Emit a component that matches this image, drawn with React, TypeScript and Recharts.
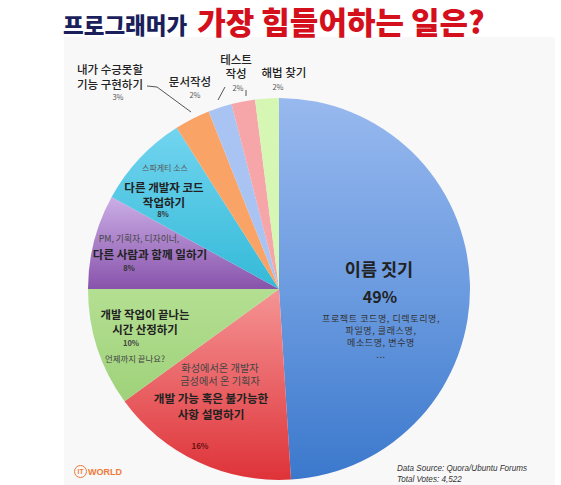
import { PieChart, Pie, Cell } from 'recharts'

const categories = [
  '이름 짓기',
  '개발 가능 혹은 불가능한 사항 설명하기',
  '개발 작업이 끝나는 시간 산정하기',
  '다른 사람과 함께 일하기',
  '다른 개발자 코드 작업하기',
  '내가 수긍못할 기능 구현하기',
  '문서작성',
  '테스트 작성',
  '해법 찾기',
]
const shares = [49, 16, 10, 8, 8, 3, 2, 2, 2]
const shareLabels = shares.map((v) => `${v}%`)

const COLORS = [
  'url(#gBlue)',
  'url(#gRed)',
  'url(#gGreen)',
  'url(#gPurple)',
  'url(#gTeal)',
  '#f9a466',
  '#a9c4f2',
  '#f6a6a9',
  '#d6f6b4',
]

const data = categories.map((name, i) => ({ name, value: shares[i] }))

const KR = "'Noto Sans CJK KR', 'Noto Sans', sans-serif"

interface TxtProps {
  x: number
  y: number
  size: number
  weight?: number
  color?: string
  lh?: number
  ls?: number
  children: React.ReactNode
}

// centred text block, y is the middle of the block
function Txt({ x, y, size, weight = 400, color = '#222', lh, ls = 0, children }: TxtProps) {
  return (
    <div
      style={{
        position: 'absolute',
        left: x,
        top: y,
        transform: 'translate(-50%, -50%)',
        fontFamily: KR,
        fontSize: size,
        fontWeight: weight,
        color,
        lineHeight: lh ? `${lh}px` : 1,
        letterSpacing: ls,
        textAlign: 'center',
        whiteSpace: 'nowrap',
      }}
    >
      {children}
    </div>
  )
}

export default function App() {
  return (
    <div style={{ position: 'absolute', left: 0, top: 0, width: 561, height: 485, background: '#fff', overflow: 'hidden' }}>
      {/* faint card behind the pie */}
      <div style={{ position: 'absolute', left: 64, top: 37, width: 491, height: 448, background: '#f8f8f8' }} />

      <PieChart width={561} height={485} style={{ position: 'absolute', left: 0, top: 0 }}>
        <defs>
          <linearGradient id="gBlue" x1="0" y1="0" x2="0" y2="1">
            <stop offset="0%" stopColor="#98b9ef" />
            <stop offset="55%" stopColor="#6798de" />
            <stop offset="100%" stopColor="#3b78cc" />
          </linearGradient>
          <linearGradient id="gRed" x1="0" y1="0" x2="0" y2="1">
            <stop offset="0%" stopColor="#f59494" />
            <stop offset="100%" stopColor="#de3339" />
          </linearGradient>
          <linearGradient id="gGreen" x1="0" y1="0" x2="0" y2="1">
            <stop offset="0%" stopColor="#b4df92" />
            <stop offset="100%" stopColor="#9fd27a" />
          </linearGradient>
          <linearGradient id="gPurple" x1="0" y1="0" x2="0" y2="1">
            <stop offset="0%" stopColor="#cbaee6" />
            <stop offset="100%" stopColor="#8853ab" />
          </linearGradient>
          <linearGradient id="gTeal" x1="0" y1="0" x2="0" y2="1">
            <stop offset="0%" stopColor="#72d4ef" />
            <stop offset="100%" stopColor="#33bad8" />
          </linearGradient>
        </defs>
        <Pie
          data={data}
          dataKey="value"
          nameKey="name"
          cx={274}
          cy={284}
          innerRadius={0}
          outerRadius={191}
          startAngle={90}
          endAngle={-270}
          stroke="none"
          isAnimationActive={false}
        >
          {data.map((d, i) => (
            <Cell key={d.name} fill={COLORS[i]} />
          ))}
        </Pie>
      </PieChart>

      {/* leader lines for the small slices */}
      <svg width={561} height={485} style={{ position: 'absolute', left: 0, top: 0 }}>
        <polyline points="147,86 157,87 191,112" fill="none" stroke="#555" strokeWidth={1} />
        <line x1={225} y1={87} x2={218} y2={100} stroke="#555" strokeWidth={1} />
        <line x1={246} y1={90} x2={246} y2={96} stroke="#555" strokeWidth={1} />
      </svg>

      {/* title */}
      <div
        style={{
          position: 'absolute',
          left: 63,
          top: 6,
          fontFamily: KR,
          fontWeight: 900,
          whiteSpace: 'nowrap',
          lineHeight: '30px',
        }}
      >
        <span style={{ fontSize: 22.5, color: '#1b1f5c' }}>프로그래머가</span>
        <span style={{ fontSize: 31, color: '#d3101c', marginLeft: 10 }}>가장 힘들어하는 일은?</span>
      </div>

      {/* outside labels */}
      <Txt x={110} y={76.5} size={11.5} weight={500} lh={15}>내가 수긍못할<br />기능 구현하기</Txt>
      <Txt x={118} y={97} size={7.5} color="#555">{shareLabels[5]}</Txt>
      <Txt x={190} y={82} size={11.5} weight={500}>{categories[6]}</Txt>
      <Txt x={195} y={95} size={7.5} color="#555">{shareLabels[6]}</Txt>
      <Txt x={236} y={66} size={11.5} weight={500} lh={14}>테스트<br />작성</Txt>
      <Txt x={238} y={87.5} size={7.5} color="#555">{shareLabels[7]}</Txt>
      <Txt x={284} y={73} size={11.5} weight={500}>{categories[8]}</Txt>
      <Txt x={278} y={87} size={7.5} color="#555">{shareLabels[8]}</Txt>

      {/* teal */}
      <Txt x={165} y={168} size={8} color="#555">스파게티 소스</Txt>
      <Txt x={164} y={194.5} size={11.5} weight={700} lh={15}>다른 개발자 코드<br />작업하기</Txt>
      <Txt x={163} y={214} size={7.5} weight={700} color="#333">{shareLabels[4]}</Txt>

      {/* purple */}
      <Txt x={139} y={239} size={8.8} color="#444">PM, 기획자, 디자이너,</Txt>
      <Txt x={150} y={255} size={11.6} weight={700}>다른 사람과 함께 일하기</Txt>
      <Txt x={129} y={268} size={7.5} weight={700} color="#333">{shareLabels[3]}</Txt>

      {/* green */}
      <Txt x={145} y={321.5} size={11.4} weight={700} lh={15}>개발 작업이 끝나는<br />시간 산정하기</Txt>
      <Txt x={131} y={343} size={7.5} weight={700} color="#444">{shareLabels[2]}</Txt>
      <Txt x={135} y={358} size={8.4} color="#444">언제까지 끝나요?</Txt>

      {/* red */}
      <Txt x={220} y={373.5} size={10.2} color="#444" lh={13}>화성에서온 개발자<br />금성에서 온 기획자</Txt>
      <Txt x={211} y={406} size={11.6} weight={700} lh={16}>개발 가능 혹은 불가능한<br />사항 설명하기</Txt>
      <Txt x={200} y={446} size={8} weight={700} color="#6a1010">{shareLabels[1]}</Txt>

      {/* blue */}
      <Txt x={379} y={269} size={17.5} weight={700}>{categories[0]}</Txt>
      <Txt x={380} y={296} size={16} weight={700}>{shareLabels[0]}</Txt>
      <Txt x={381} y={337} size={9} color="#333" lh={12} ls={0.6}>
        프로젝트 코드명, 디렉토리명,<br />파일명, 클래스명,<br />메소드명, 변수명<br />...
      </Txt>

      {/* source note */}
      <div
        style={{
          position: 'absolute',
          left: 397,
          top: 463,
          fontFamily: "'Liberation Sans', sans-serif",
          fontStyle: 'italic',
          fontSize: 9,
          lineHeight: '11px',
          color: '#333',
          whiteSpace: 'nowrap',
          transform: 'scaleX(0.9)',
          transformOrigin: 'left top',
        }}
      >
        Data Source: Quora/Ubuntu Forums<br />Total Votes: 4,522
      </div>

      {/* logo */}
      <div
        style={{
          position: 'absolute',
          left: 74,
          top: 465,
          display: 'flex',
          alignItems: 'center',
          fontFamily: "'Liberation Sans', sans-serif",
          fontWeight: 700,
          color: '#f07a3a',
          whiteSpace: 'nowrap',
        }}
      >
        <span
          style={{
            display: 'inline-flex',
            alignItems: 'center',
            justifyContent: 'center',
            width: 11,
            height: 11,
            border: '1.3px solid #f07a3a',
            borderRadius: '50%',
            fontSize: 6.5,
          }}
        >
          IT
        </span>
        <span style={{ fontSize: 9, marginLeft: 1 }}>WORLD</span>
      </div>
    </div>
  )
}
